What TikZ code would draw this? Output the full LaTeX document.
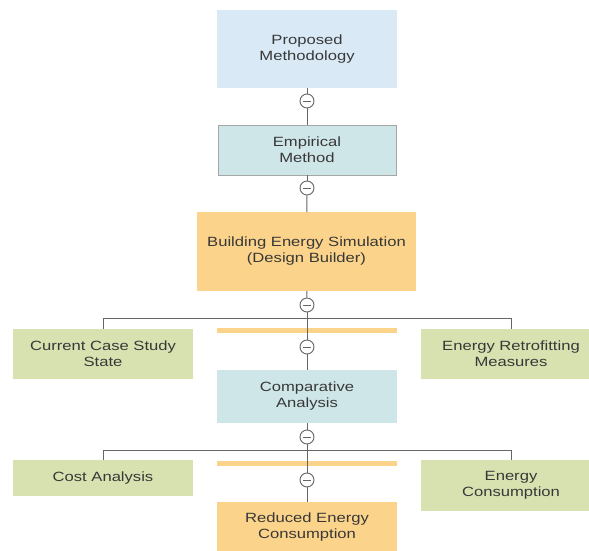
\documentclass[tikz,border=0pt]{standalone}
\usepackage{fontspec}
\setmainfont{Liberation Sans}
\newfontfamily\widesans[FakeStretch=1.24]{Liberation Sans}
\definecolor{pblue}{HTML}{D9EAF6}
\definecolor{tealc}{HTML}{CFE6E8}
\definecolor{orng}{HTML}{FBD38A}
\definecolor{grn}{HTML}{D8E2B1}
\definecolor{txt}{HTML}{383838}
\definecolor{ln}{HTML}{666666}
\tikzset{
  box/.style={inner sep=0pt, outer sep=0pt, align=center, text=txt,
    font=\widesans\fontsize{13.4}{16}\selectfont,
    execute at begin node={\vspace*{3pt}}},
  toggle/.style={circle, draw=ln, fill=white, minimum size=14pt, inner sep=0pt, line width=0.9pt,
    path picture={\draw[ln, line width=1pt] ([xshift=-3.8pt]path picture bounding box.center) -- ([xshift=3.8pt]path picture bounding box.center);}},
  conn/.style={draw=ln, line width=1pt}
}
\begin{document}
\begin{tikzpicture}[x=1pt,y=-1pt]
\useasboundingbox (0,0) rectangle (589,551);
\clip (0,0) rectangle (589,551);
% boxes
\node[box, fill=pblue, minimum width=180, minimum height=78] (prop) at (307,49) {Proposed\\Methodology};
\node[box, fill=tealc, draw=gray!70, line width=0.8pt, minimum width=178, minimum height=50] (emp) at (307,150) {Empirical\\Method};
\node[box, fill=orng, minimum width=219, minimum height=79] (bes) at (306.5,251.5) {Building Energy Simulation\\(Design Builder)};
\node[box, fill=grn, minimum width=180, minimum height=50] (cur) at (103,354) {Current Case Study\\State};
\node[box, fill=grn, minimum width=180, minimum height=50] (ret) at (511,354) {Energy Retrofitting\\Measures};
\node[box, fill=orng, minimum width=180, minimum height=5, execute at begin node={}] (bar1) at (307,330.5) {};
\node[box, fill=tealc, minimum width=180, minimum height=53] (cmp) at (307,396.5) {Comparative\\Analysis};
\node[box, fill=grn, minimum width=180, minimum height=36] (cost) at (103,478) {Cost Analysis};
\node[box, fill=grn, minimum width=180, minimum height=51] (econ) at (511,485.5) {Energy\\Consumption};
\node[box, fill=orng, minimum width=180, minimum height=5, execute at begin node={}] (bar2) at (307,463.5) {};
\node[box, fill=orng, minimum width=180, minimum height=50] (red) at (307,527) {Reduced Energy\\Consumption};
% toggles
\node[toggle] (c1) at (307,101) {};
\node[toggle] (c2) at (307,188) {};
\node[toggle] (c3) at (307,305) {};
\node[toggle] (c4) at (307,347) {};
\node[toggle] (c5) at (307,437) {};
\node[toggle] (c6) at (307,480) {};
\coordinate (j1) at (307,318);
\coordinate (j2) at (307,450);
% connectors
\draw[conn] (prop) -- (c1);
\draw[conn] (c1) -- (emp);
\draw[conn] (emp) -- (c2);
\draw[conn] (c2) -- (bes);
\draw[conn] (bes) -- (c3);
\draw[conn] (c3) -- (c4);
\draw[conn] (j1) -| (cur.north);
\draw[conn] (j1) -| (ret.north);
\draw[conn] (c4) -- (cmp);
\draw[conn] (cmp) -- (c5);
\draw[conn] (c5) -- (c6);
\draw[conn] (j2) -| (cost.north);
\draw[conn] (j2) -| (econ.north);
\draw[conn] (c6) -- (red);
\end{tikzpicture}
\end{document}
